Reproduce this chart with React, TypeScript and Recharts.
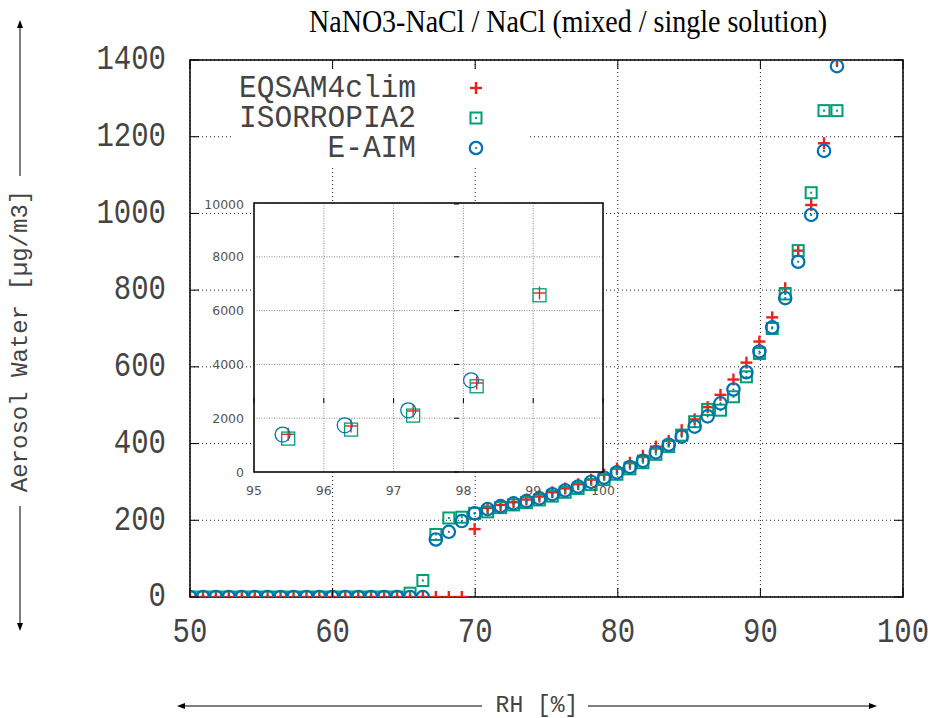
import React from "react";
import {
  CartesianGrid,
  Legend,
  ReferenceArea,
  Scatter,
  ScatterChart,
  XAxis,
  YAxis,
} from "recharts";

// relative humidity [%] of each sample (main panel)
const RH = [
  50.0, 50.91, 51.81, 52.72, 53.63, 54.54, 55.44, 56.35, 57.26, 58.17, 59.07,
  59.98, 60.89, 61.8, 62.7, 63.61, 64.52, 65.43, 66.33, 67.24, 68.15, 69.06,
  69.96, 70.87, 71.78, 72.69, 73.59, 74.5, 75.41, 76.31, 77.22, 78.13, 79.04,
  79.94, 80.85, 81.76, 82.67, 83.57, 84.48, 85.39, 86.3, 87.2, 88.11, 89.02,
  89.93, 90.83, 91.74, 92.65, 93.56, 94.46, 95.37,
];

// aerosol water [µg/m3]
const EQSAM = [
  0, 0, 0, 0, 0, 0, 0, 0, 0, 0, 0, 0, 0, 0, 0, 0, 0, 0, 0, 0, 0, 0, 177, 232,
  240, 247, 254, 262, 273, 283, 294, 306, 319, 335, 350, 368, 392, 407, 435,
  463, 495, 527, 567, 611, 666, 729, 805, 903, 1022, 1183, 1400,
];
const ISORROPIA = [
  0, 0, 0, 0, 0, 0, 0, 0, 0, 0, 0, 0, 0, 0, 0, 0, 0, 10, 43, 163, 206, 208,
  218, 222, 233, 240, 246, 253, 263, 273, 283, 293, 306, 320, 334, 350, 372,
  392, 422, 457, 489, 487, 522, 574, 635, 700, 790, 903, 1054, 1268, 1268,
];
const EAIM = [
  0, 0, 0, 0, 0, 0, 0, 0, 0, 0, 0, 0, 0, 0, 0, 0, 0, 0, 0, 150, 170, 198, 218,
  229, 237, 244, 250, 257, 268, 278, 288, 300, 311, 325, 339, 355, 377, 397,
  418, 444, 471, 505, 541, 586, 640, 703, 779, 874, 996, 1163, 1384,
];

// inset: high humidity end
const INSET_RH_MODEL = [95.49, 96.39, 97.28, 98.19, 99.09];
const INSET_EQSAM = [1401, 1710, 2268, 3309, 6654];
const INSET_ISORROPIA = [1242, 1576, 2097, 3186, 6569];
const INSET_RH_EAIM = [95.41, 96.3, 97.21, 98.11];
const INSET_EAIM = [1390, 1736, 2294, 3409];

const X_TICKS = [50, 60, 70, 80, 90, 100];
const Y_TICKS = [0, 200, 400, 600, 800, 1000, 1200, 1400];
const INSET_X_TICKS = [95, 96, 97, 98, 99, 100];
const INSET_Y_TICKS = [0, 2000, 4000, 6000, 8000, 10000];

const RED = "#e8231c";
const GREEN = "#009e73";
const BLUE = "#0072b2";
const MONO = "Liberation Mono, Courier New, monospace";
const TEXT = "#444";

// plot box edges (px), used for the mirrored inward tick marks
const MAIN_BOX = { left: 190, right: 903, top: 60, bottom: 597 };
const INSET_BOX = { left: 254, right: 603, top: 203, bottom: 472 };

const pts = (xs: number[], ys: number[]) =>
  xs.map((x, i) => ({ x, y: ys[i] }));

function PlusMark({ cx, cy, r = 6, w = 2.4 }: any) {
  if (cx == null || cy == null) return null;
  return (
    <g stroke={RED} strokeWidth={w}>
      <line x1={cx - r} y1={cy} x2={cx + r} y2={cy} />
      <line x1={cx} y1={cy - r} x2={cx} y2={cy + r} />
    </g>
  );
}

function SquareMark({ cx, cy, r = 5.5, w = 2, dot = true }: any) {
  if (cx == null || cy == null) return null;
  return (
    <g>
      <rect
        x={cx - r}
        y={cy - r}
        width={r * 2}
        height={r * 2}
        fill="none"
        stroke={GREEN}
        strokeWidth={w}
      />
      {dot && <rect x={cx - 1} y={cy - 1} width={2} height={2} fill={GREEN} />}
    </g>
  );
}

function CircleMark({ cx, cy, r = 6.2, w = 2.2, dot = true }: any) {
  if (cx == null || cy == null) return null;
  return (
    <g>
      <circle cx={cx} cy={cy} r={r} fill="none" stroke={BLUE} strokeWidth={w} />
      {dot && <circle cx={cx} cy={cy} r={1.1} fill={BLUE} />}
    </g>
  );
}

function MainYTick({ x, y, payload }: any) {
  return (
    <g>
      <line x1={MAIN_BOX.left} x2={MAIN_BOX.left + 9} y1={y} y2={y} stroke="#000" />
      <line x1={MAIN_BOX.right - 9} x2={MAIN_BOX.right} y1={y} y2={y} stroke="#000" />
      <text
        transform={`translate(${x},${y}) scale(1,1.22)`}
        textAnchor="end"
        dominantBaseline="central"
        fontFamily={MONO}
        fontSize={29}
        fill={TEXT}
      >
        {payload.value}
      </text>
    </g>
  );
}

function MainXTick({ x, y, payload }: any) {
  return (
    <g>
      <line x1={x} x2={x} y1={MAIN_BOX.bottom} y2={MAIN_BOX.bottom - 9} stroke="#000" />
      <line x1={x} x2={x} y1={MAIN_BOX.top} y2={MAIN_BOX.top + 9} stroke="#000" />
      <text
        transform={`translate(${x},${y}) scale(1,1.22)`}
        textAnchor="middle"
        dominantBaseline="central"
        fontFamily={MONO}
        fontSize={29}
        fill={TEXT}
      >
        {payload.value}
      </text>
    </g>
  );
}

function InsetYTick({ x, y, payload }: any) {
  return (
    <g>
      <line x1={INSET_BOX.left} x2={INSET_BOX.left + 5} y1={y} y2={y} stroke="#000" />
      <line x1={INSET_BOX.right - 5} x2={INSET_BOX.right} y1={y} y2={y} stroke="#000" />
      <text
        x={x}
        y={y}
        textAnchor="end"
        dominantBaseline="central"
        fontFamily="DejaVu Sans, sans-serif"
        fontSize={12.5}
        fill="#555"
      >
        {payload.value}
      </text>
    </g>
  );
}

function InsetXTick({ x, y, payload }: any) {
  return (
    <g>
      <line x1={x} x2={x} y1={INSET_BOX.bottom} y2={INSET_BOX.bottom - 5} stroke="#000" />
      <line x1={x} x2={x} y1={INSET_BOX.top} y2={INSET_BOX.top + 5} stroke="#000" />
      <text
        x={x}
        y={y}
        textAnchor="middle"
        dominantBaseline="central"
        fontFamily="DejaVu Sans, sans-serif"
        fontSize={12.5}
        fill="#555"
      >
        {payload.value}
      </text>
    </g>
  );
}

function YLabel() {
  return (
    <g>
      <line x1={20} y1={176} x2={20} y2={26} stroke="#000" strokeWidth={1} />
      <path d="M20,20 L17,28 L23,28 Z" fill="#000" />
      <text
        transform="translate(20,341) rotate(-90)"
        textAnchor="middle"
        dominantBaseline="central"
        fontFamily={MONO}
        fontSize={24}
        fill={TEXT}
      >
        Aerosol Water [µg/m3]
      </text>
      <line x1={20} y1={506} x2={20} y2={624} stroke="#000" strokeWidth={1} />
      <path d="M20,631 L17,623 L23,623 Z" fill="#000" />
    </g>
  );
}

function XLabel() {
  return (
    <g>
      <line x1={482} y1={706} x2={184} y2={706} stroke="#000" strokeWidth={1} />
      <path d="M177,706 L185,703 L185,709 Z" fill="#000" />
      <text
        x={537}
        y={706}
        textAnchor="middle"
        dominantBaseline="central"
        fontFamily={MONO}
        fontSize={23}
        fill={TEXT}
      >
        RH [%]
      </text>
      <line x1={588} y1={706} x2={870} y2={706} stroke="#000" strokeWidth={1} />
      <path d="M877,706 L869,703 L869,709 Z" fill="#000" />
    </g>
  );
}

const LEGEND_ROWS = [
  { name: "EQSAM4clim", Mark: PlusMark },
  { name: "ISORROPIA2", Mark: SquareMark },
  { name: "E-AIM", Mark: CircleMark },
];

function LegendBox() {
  return (
    <svg width={297} height={96} style={{ display: "block", background: "#fff" }}>
      {LEGEND_ROWS.map((row, i) => (
        <g key={row.name}>
          <text
            transform={`translate(183,${19 + i * 30}) scale(1,1.08)`}
            textAnchor="end"
            dominantBaseline="central"
            fontFamily={MONO}
            fontSize={29.5}
            fill={TEXT}
          >
            {row.name}
          </text>
          <row.Mark cx={243} cy={19 + i * 30} />
        </g>
      ))}
    </svg>
  );
}

export default function App() {
  return (
    <div
      style={{
        position: "absolute",
        left: 0,
        top: 0,
        width: 941,
        height: 718,
        background: "#fff",
      }}
    >
      <ScatterChart
        width={941}
        height={718}
        margin={{ top: 60, right: 38, bottom: 0, left: 0 }}
      >
        <CartesianGrid
          stroke="#222"
          strokeDasharray="1 3"
          verticalValues={X_TICKS}
          horizontalValues={Y_TICKS}
        />
        <XAxis
          type="number"
          dataKey="x"
          domain={[50, 100]}
          ticks={X_TICKS}
          allowDataOverflow
          axisLine={false}
          tickLine={false}
          tickSize={0}
          tickMargin={36}
          height={121}
          tick={<MainXTick />}
          label={<XLabel />}
        />
        <YAxis
          type="number"
          dataKey="y"
          domain={[0, 1400]}
          ticks={Y_TICKS}
          allowDataOverflow
          axisLine={false}
          tickLine={false}
          tickSize={0}
          tickMargin={24}
          width={190}
          tick={<MainYTick />}
          label={<YLabel />}
        />
        <ReferenceArea
          x1={50}
          x2={100}
          y1={0}
          y2={1400}
          fill="none"
          stroke="#000"
          strokeWidth={1.5}
          ifOverflow="visible"
        />
        <Legend
          layout="vertical"
          align="center"
          verticalAlign="middle"
          wrapperStyle={{ left: 233, top: 69, width: 297, height: 96 }}
          content={() => <LegendBox />}
        />
        <Scatter
          name="EQSAM4clim"
          data={pts(RH, EQSAM)}
          shape={(p: any) => <PlusMark cx={p.cx} cy={p.cy} />}
          isAnimationActive={false}
        />
        <Scatter
          name="ISORROPIA2"
          data={pts(RH, ISORROPIA)}
          shape={(p: any) => <SquareMark cx={p.cx} cy={p.cy} />}
          isAnimationActive={false}
        />
        <Scatter
          name="E-AIM"
          data={pts(RH, EAIM)}
          shape={(p: any) => <CircleMark cx={p.cx} cy={p.cy} />}
          isAnimationActive={false}
        />
      </ScatterChart>

      <div
        style={{
          position: "absolute",
          left: 218,
          top: 5,
          width: 700,
          textAlign: "center",
          fontFamily: "Liberation Serif, Times New Roman, serif",
          fontSize: 28,
          lineHeight: "34px",
          color: "#000",
          transform: "scaleY(1.12)",
        }}
      >
        NaNO3-NaCl / NaCl (mixed / single solution)
      </div>

      <div style={{ position: "absolute", left: 200, top: 195 }}>
        <ScatterChart
          width={420}
          height={305}
          margin={{ top: 8, right: 17, bottom: 0, left: 0 }}
        >
          <CartesianGrid
            fill="#fff"
            fillOpacity={1}
            stroke="#888"
            strokeDasharray="1 1.5"
            verticalValues={INSET_X_TICKS}
            horizontalValues={INSET_Y_TICKS}
          />
          <XAxis
            type="number"
            dataKey="x"
            domain={[95, 100]}
            ticks={INSET_X_TICKS}
            allowDataOverflow
            axisLine={false}
            tickLine={false}
            tickSize={0}
            tickMargin={18}
            height={28}
            tick={<InsetXTick />}
          />
          <YAxis
            type="number"
            dataKey="y"
            domain={[0, 10000]}
            ticks={INSET_Y_TICKS}
            allowDataOverflow
            axisLine={false}
            tickLine={false}
            tickSize={0}
            tickMargin={10}
            width={54}
            tick={<InsetYTick />}
          />
          <ReferenceArea
            x1={95}
            x2={100}
            y1={0}
            y2={10000}
            fill="none"
            stroke="#000"
            strokeWidth={1.5}
            ifOverflow="visible"
          />
          <Scatter
            name="EQSAM4clim"
            data={pts(INSET_RH_MODEL, INSET_EQSAM)}
            shape={(p: any) => <PlusMark cx={p.cx} cy={p.cy} r={6.5} w={1.4} />}
            isAnimationActive={false}
          />
          <Scatter
            name="ISORROPIA2"
            data={pts(INSET_RH_MODEL, INSET_ISORROPIA)}
            shape={(p: any) => (
              <SquareMark cx={p.cx} cy={p.cy} r={6.5} w={1.3} dot={false} />
            )}
            isAnimationActive={false}
          />
          <Scatter
            name="E-AIM"
            data={pts(INSET_RH_EAIM, INSET_EAIM)}
            shape={(p: any) => (
              <CircleMark cx={p.cx} cy={p.cy} r={7.5} w={1.3} dot={false} />
            )}
            isAnimationActive={false}
          />
        </ScatterChart>
      </div>
    </div>
  );
}
